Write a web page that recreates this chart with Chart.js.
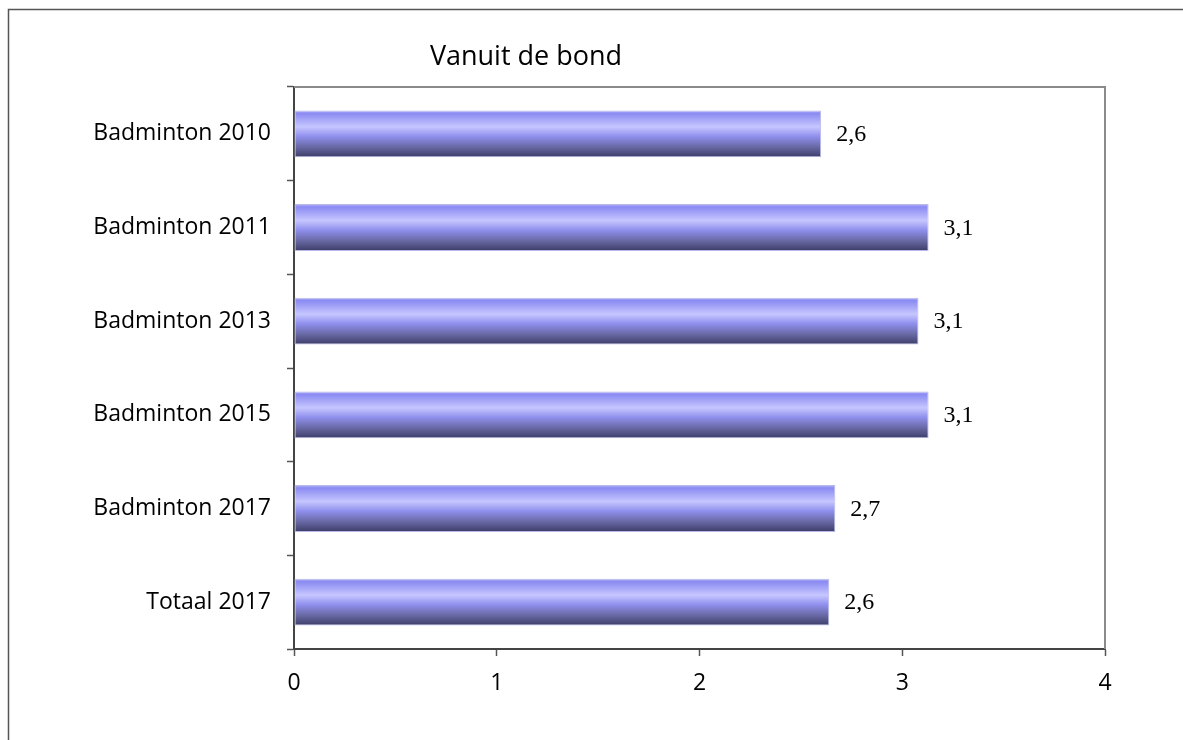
<!DOCTYPE html>
<html>
<head>
<meta charset="utf-8">
<script src="https://cdn.jsdelivr.net/npm/chart.js@4.4.0/dist/chart.umd.min.js"></script>
<style>
  html,body{margin:0;padding:0;background:#fff;}
  #wrap{width:1183px;height:740px;position:relative;}
</style>
</head>
<body>
<div id="wrap"><canvas id="chart" width="1183" height="740"></canvas></div>
<script>
// data
var categories = ["Badminton 2010","Badminton 2011","Badminton 2013","Badminton 2015","Badminton 2017","Totaal 2017"];
var values = [2.6, 3.13, 3.08, 3.13, 2.67, 2.64];
var xTicks = [0, 1, 2, 3, 4];
var chartTitle = "Vanuit de bond";

var labelFont = "'Open Sans', Lato, sans-serif";

function barGradient(ctx){
    var chart = ctx.chart;
    var y = chart.scales.y;
    if(!y || ctx.dataIndex === undefined) return "#9a9af5";
    var yc = y.getPixelForValue(ctx.dataIndex);
    var h = (y.bottom - y.top) / categories.length * 0.5;
    if(!isFinite(yc) || !isFinite(h) || h <= 0) return "#9a9af5";
    var g = chart.ctx.createLinearGradient(0, yc - h/2, 0, yc + h/2);
    g.addColorStop(0, "#b8b8f8");
    g.addColorStop(0.06, "#8a8af2");
    g.addColorStop(0.35, "#c6c6ff");
    g.addColorStop(0.55, "#9090ee");
    g.addColorStop(0.8, "#65659f");
    g.addColorStop(1, "#3c3c68");
    return g;
}

// frame, plot border, title and value labels
var decor = {
    id: "decor",
    afterDraw: function(c){
        var ctx = c.ctx, a = c.chartArea;
        ctx.save();
        ctx.strokeStyle = "#555";
        ctx.lineWidth = 1.5;
        ctx.beginPath();
        ctx.moveTo(8.5, 740); ctx.lineTo(8.5, 9.5); ctx.lineTo(1183, 9.5);
        ctx.stroke();
        ctx.strokeStyle = "#8a8a8a";
        ctx.lineWidth = 2;
        ctx.beginPath();
        ctx.moveTo(a.left, a.top); ctx.lineTo(a.right, a.top); ctx.lineTo(a.right, a.bottom);
        ctx.stroke();
        ctx.fillStyle = "#000";
        ctx.font = "27px " + labelFont;
        ctx.textAlign = "center";
        ctx.textBaseline = "middle";
        ctx.fillText(chartTitle, 526, 57);
        ctx.font = "24px 'Liberation Serif', serif";
        ctx.textAlign = "left";
        var meta = c.getDatasetMeta(0);
        for(var i=0;i<meta.data.length;i++){
            var el = meta.data[i];
            ctx.fillText(values[i].toFixed(1).replace(".", ","), el.x + 15, el.y + 1);
        }
        ctx.restore();
    }
};

var chart = new Chart(document.getElementById("chart"), {
    type: "bar",
    data: {
        labels: categories,
        datasets: [{
            data: values,
            backgroundColor: barGradient,
            borderColor: "#b8b8e8",
            borderWidth: 1,
            borderSkipped: false,
            barPercentage: 0.5,
            categoryPercentage: 1
        }]
    },
    options: {
        indexAxis: "y",
        responsive: false,
        animation: false,
        layout: { padding: { left: 0, right: 78, top: 87, bottom: 0 } },
        plugins: { legend: { display: false }, tooltip: { enabled: false } },
        scales: {
            x: {
                min: 0, max: 4,
                afterBuildTicks: function(s){ s.ticks = xTicks.map(function(v){ return {value: v}; }); },
                afterFit: function(s){ s.height = 91; },
                grid: { drawOnChartArea: false, tickLength: 7, color: "#555", tickWidth: 1.5 },
                border: { color: "#444", width: 2 },
                ticks: { color: "#000", font: { family: labelFont, size: 23 }, padding: 14 }
            },
            y: {
                afterFit: function(s){ s.width = 294; },
                grid: { drawOnChartArea: false, offset: true, tickLength: 7, color: "#555", tickWidth: 1.5 },
                border: { color: "#444", width: 2 },
                ticks: { color: "#000", font: { family: labelFont, size: 23 }, padding: 16 }
            }
        }
    },
    plugins: [decor]
});
</script>
</body>
</html>
